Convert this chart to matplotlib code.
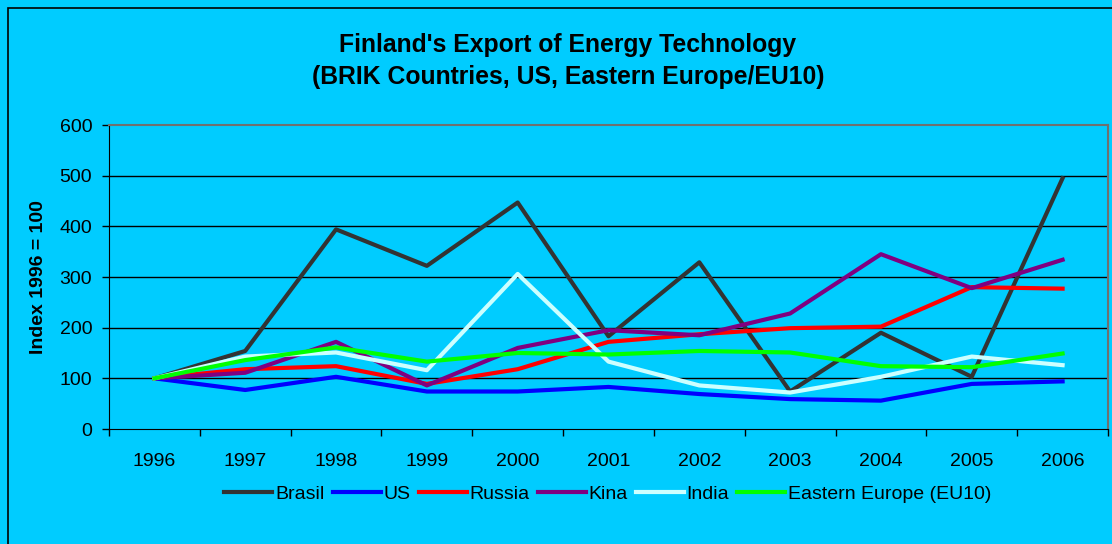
import matplotlib.pyplot as plt
import matplotlib.patches as mpatches
import numpy as np

plt.rcParams['font.family'] = ['Liberation Sans', 'DejaVu Sans']

years = ['1996', '1997', '1998', '1999', '2000', '2001', '2002', '2003', '2004', '2005', '2006']

brasil = [100, 154, 394, 322, 447, 183, 329, 74, 190, 103, 495]
us = [100, 77, 103, 74, 74, 83, 69, 59, 56, 89, 94]
russia = [100, 118, 124, 89, 118, 172, 187, 199, 202, 280, 277]
kina = [100, 111, 172, 86, 160, 195, 185, 228, 345, 278, 334]
india = [100, 143, 151, 116, 306, 133, 86, 72, 103, 143, 126]
eu10 = [100, 136, 161, 133, 150, 147, 154, 151, 124, 122, 149]

series = [
    ('Brasil', brasil, '#333333'),
    ('US', us, '#0000FF'),
    ('Russia', russia, '#FF0000'),
    ('Kina', kina, '#800080'),
    ('India', india, '#CCFFFF'),
    ('Eastern Europe (EU10)', eu10, '#00FF00'),
]

bg = '#00CCFF'

fig = plt.figure(figsize=(11.12, 5.44), dpi=100, facecolor=bg)
ax = fig.add_axes([109 / 1112, 1 - 429 / 544, 999 / 1112, 304 / 544])
ax.set_facecolor(bg)

# chart border (cut at right / bottom like the original)
fig.patches.append(mpatches.Rectangle((8 / 1112, -0.1), 1.2, 1.1 - 8 / 544,
                                      transform=fig.transFigure, fill=False,
                                      edgecolor='black', linewidth=1.2, zorder=0))

x = np.arange(len(years))
for name, vals, col in series:
    ax.plot(x, vals, color=col, linewidth=3, label=name)

ax.set_xlim(-0.5, len(years) - 0.5)
ax.set_ylim(0, 600)
ax.set_yticks(range(0, 601, 100))
ax.tick_params(axis='y', labelsize=14, length=5, width=1, pad=7)
ax.set_xticks(x)
ax.set_xticklabels(years)
ax.tick_params(axis='x', which='major', length=0, labelsize=14, pad=17)
ax.set_xticks(np.arange(-0.5, len(years)), minor=True)
ax.tick_params(axis='x', which='minor', length=5, width=1)

for yv in range(100, 600, 100):
    ax.axhline(yv, color='black', linewidth=1, zorder=0.5)

ax.spines['top'].set_color('#707070')
ax.spines['right'].set_color('#707070')
ax.spines['top'].set_linewidth(1.5)
ax.spines['right'].set_linewidth(1.5)

ax.set_ylabel('Index 1996 = 100', fontsize=14, fontweight='bold', labelpad=9)

fig.text(568 / 1112, 1 - 45 / 544, "Finland's Export of Energy Technology",
         ha='center', va='center', fontsize=17.8, fontweight='bold')
fig.text(568 / 1112, 1 - 77 / 544, "(BRIK Countries, US, Eastern Europe/EU10)",
         ha='center', va='center', fontsize=17.8, fontweight='bold')

fig.legend(loc='center', bbox_to_anchor=(608 / 1112, 1 - 494 / 544), ncol=6,
           frameon=False, fontsize=14, handlelength=2.47, handletextpad=0.15,
           columnspacing=0.41)

fig.savefig('out.png', dpi=100, facecolor=bg)
